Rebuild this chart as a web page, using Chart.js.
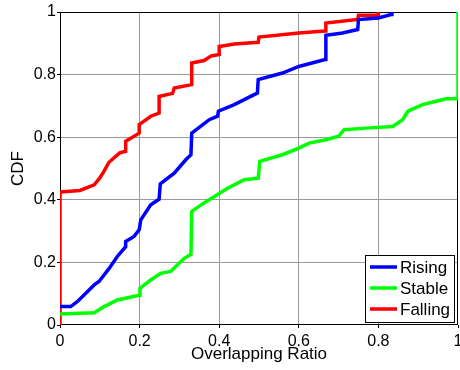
<!DOCTYPE html>
<html>
<head>
<meta charset="utf-8">
<script src="https://cdn.jsdelivr.net/npm/chart.js@4"></script>
<style>
  html, body { margin: 0; padding: 0; background: #fff; }
  #wrap { width: 460px; height: 370px; }
</style>
</head>
<body>
<div id="wrap"><canvas id="cdfChart" width="460" height="370"></canvas></div>
<script>
// CDF of overlapping ratio, three trend classes

const seriesLabels = ["Rising", "Stable", "Falling"];
const seriesColors = ["#0000ff", "#00ff00", "#ff0000"];

const xTicks = [0, 0.2, 0.4, 0.6, 0.8, 1];
const yTicks = [0, 0.2, 0.4, 0.6, 0.8, 1];

const risingX = [0, 0.027, 0.044, 0.086, 0.098, 0.123, 0.144, 0.165, 0.165, 0.186, 0.199, 0.203, 0.228, 0.249, 0.252, 0.287, 0.316, 0.329, 0.331, 0.375, 0.396, 0.398, 0.438, 0.488, 0.496, 0.498, 0.559, 0.60, 0.666, 0.668, 0.71, 0.748, 0.75, 0.80, 0.832, 0.834];
const risingY = [0.059, 0.059, 0.075, 0.128, 0.139, 0.18, 0.219, 0.25, 0.267, 0.283, 0.304, 0.336, 0.384, 0.402, 0.451, 0.485, 0.528, 0.544, 0.613, 0.656, 0.667, 0.683, 0.704, 0.736, 0.741, 0.784, 0.805, 0.826, 0.848, 0.926, 0.933, 0.944, 0.976, 0.981, 0.992, 1.0];

const stableX = [0, 0.086, 0.11, 0.144, 0.199, 0.201, 0.228, 0.253, 0.278, 0.312, 0.329, 0.331, 0.362, 0.387, 0.421, 0.463, 0.498, 0.502, 0.559, 0.60, 0.626, 0.668, 0.70, 0.714, 0.769, 0.836, 0.861, 0.874, 0.911, 0.945, 0.97, 1.0, 1.0];
const stableY = [0.035, 0.039, 0.058, 0.08, 0.095, 0.117, 0.144, 0.165, 0.171, 0.213, 0.225, 0.363, 0.39, 0.41, 0.437, 0.464, 0.469, 0.523, 0.544, 0.565, 0.581, 0.592, 0.603, 0.624, 0.629, 0.634, 0.656, 0.683, 0.704, 0.715, 0.723, 0.723, 1.0];

const fallingX = [0, 0, 0.05, 0.086, 0.1, 0.11, 0.123, 0.15, 0.165, 0.165, 0.182, 0.199, 0.199, 0.228, 0.249, 0.249, 0.283, 0.287, 0.331, 0.331, 0.362, 0.379, 0.40, 0.40, 0.438, 0.498, 0.50, 0.60, 0.666, 0.668, 0.748, 0.75, 0.80, 0.80];
const fallingY = [0, 0.425, 0.43, 0.448, 0.47, 0.49, 0.52, 0.55, 0.555, 0.587, 0.60, 0.613, 0.64, 0.667, 0.677, 0.73, 0.74, 0.757, 0.768, 0.837, 0.845, 0.859, 0.864, 0.89, 0.898, 0.903, 0.92, 0.933, 0.939, 0.965, 0.976, 0.99, 0.99, 1.0];

const FONT = "'Liberation Sans', Arial, Helvetica, sans-serif";

function toPoints(xs, ys) {
    return xs.map((x, i) => ({ x: x, y: ys[i] }));
}

function makeDataset(i, xs, ys) {
    return {
        label: seriesLabels[i],
        data: toPoints(xs, ys),
        borderColor: seriesColors[i],
        backgroundColor: seriesColors[i],
        borderWidth: 3.5,
        pointRadius: 0,
        tension: 0,
        fill: false
    };
}

// box around the plot, drawn under the curves
const framePlugin = {
    id: "frame",
    beforeDatasetsDraw(chart) {
        const a = chart.chartArea;
        const c = chart.ctx;
        c.save();
        c.strokeStyle = "#000";
        c.lineWidth = 1;
        c.strokeRect(a.left + 0.5, a.top + 0.5, a.right - a.left - 1, a.bottom - a.top - 1);
        c.restore();
    }
};

// MATLAB-like legend box in the lower right corner
const boxLegend = {
    id: "boxLegend",
    afterDraw(chart) {
        const a = chart.chartArea;
        const c = chart.ctx;
        const w = 89, rowH = 21, h = 67;
        const x0 = a.right - 4 - w;
        const y0 = a.bottom - 3 - h;
        c.save();
        c.fillStyle = "#fff";
        c.fillRect(x0, y0, w, h);
        c.strokeStyle = "#000";
        c.lineWidth = 1;
        c.strokeRect(x0 + 0.5, y0 + 0.5, w, h);
        c.font = "17px " + FONT;
        c.textBaseline = "middle";
        c.textAlign = "left";
        chart.data.datasets.forEach((ds, i) => {
            const yy = y0 + 12 + i * rowH;
            c.strokeStyle = ds.borderColor;
            c.lineWidth = 3.5;
            c.beginPath();
            c.moveTo(x0 + 5, yy);
            c.lineTo(x0 + 32, yy);
            c.stroke();
            c.fillStyle = "#000";
            c.fillText(ds.label, x0 + 35, yy + 1);
        });
        c.restore();
    }
};

const gridOpts = {
    color: (ctx) => (ctx.tick && (ctx.tick.value === 0 || ctx.tick.value === 1)) ? "rgba(0,0,0,0)" : "#9a9a9a",
    lineWidth: 1,
    borderDash: [1, 3],
    tickLength: 3,
    tickColor: "#000"
};

const ctx = document.getElementById("cdfChart").getContext("2d");

const cdfChart = new Chart(ctx, {
    type: "line",
    data: {
        datasets: [
            makeDataset(0, risingX, risingY),
            makeDataset(1, stableX, stableY),
            makeDataset(2, fallingX, fallingY)
        ]
    },
    options: {
        responsive: false,
        animation: false,
        layout: { padding: { top: 12, right: 2, left: 0, bottom: 0 } },
        plugins: {
            legend: { display: false },
            tooltip: { enabled: false }
        },
        scales: {
            x: {
                type: "linear",
                min: 0,
                max: 1,
                afterBuildTicks: (axis) => { axis.ticks = xTicks.map(v => ({ value: v })); },
                afterFit: (axis) => { axis.height = 45; axis.paddingRight = 0; axis.paddingLeft = 0; },
                ticks: {
                    color: "#000",
                    font: { family: FONT, size: 16 },
                    padding: 4,
                    maxRotation: 0,
                    callback: (v) => String(v)
                },
                grid: gridOpts,
                border: { display: false },
                title: {
                    display: true,
                    text: "Overlapping Ratio",
                    color: "#000",
                    font: { family: FONT, size: 17 },
                    padding: { top: 0, bottom: 5 }
                }
            },
            y: {
                type: "linear",
                min: 0,
                max: 1,
                afterBuildTicks: (axis) => { axis.ticks = yTicks.map(v => ({ value: v })); },
                afterFit: (axis) => { axis.width = 60; axis.paddingTop = 0; axis.paddingBottom = 0; },
                ticks: {
                    color: "#000",
                    font: { family: FONT, size: 16 },
                    padding: 1,
                    callback: (v) => String(v)
                },
                grid: gridOpts,
                border: { display: false },
                title: {
                    display: true,
                    text: "CDF",
                    color: "#000",
                    font: { family: FONT, size: 17 },
                    padding: { top: 8, bottom: 0 }
                }
            }
        }
    },
    plugins: [framePlugin, boxLegend]
});
</script>
</body>
</html>
